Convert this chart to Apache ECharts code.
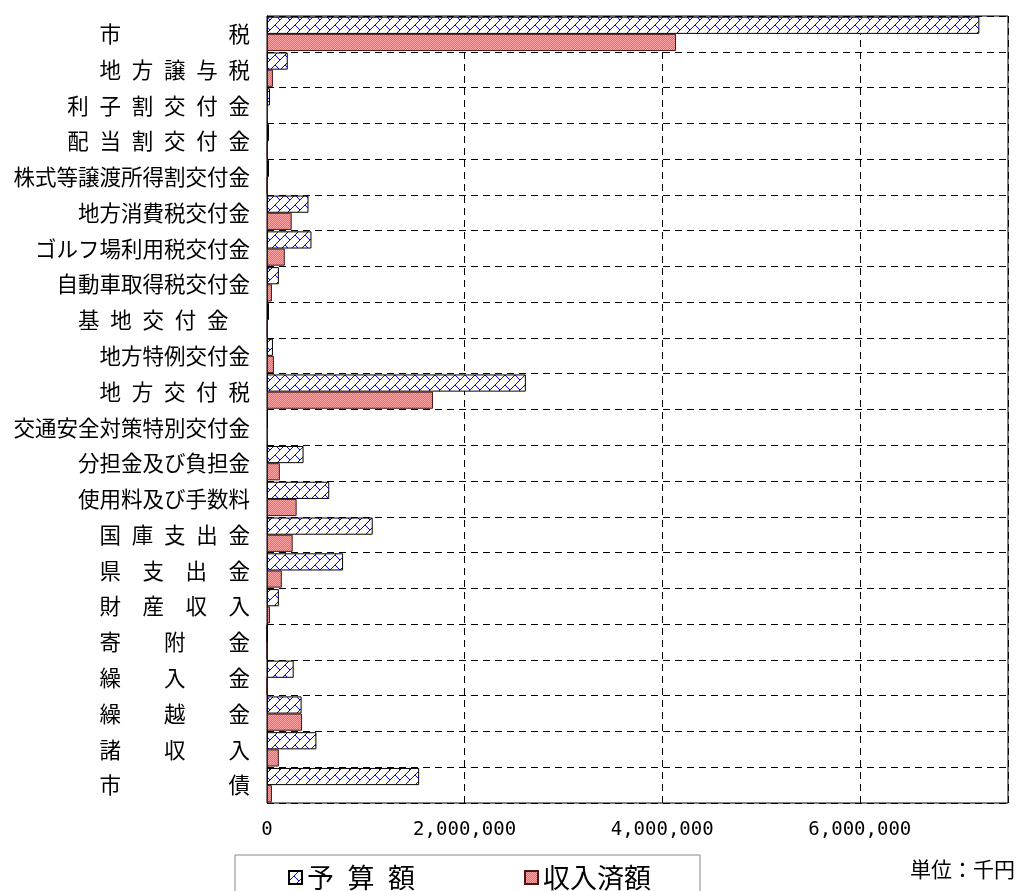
<!DOCTYPE html>
<html>
<head>
<meta charset="utf-8">
<title>歳入</title>
<script src="https://cdn.jsdelivr.net/npm/echarts@6/dist/echarts.min.js"></script>
<style>
    html, body { margin: 0; padding: 0; background: #fff; }
    .chart { width: 1019px; height: 891px; }
</style>
</head>
<body>
<div class="chart"></div>
<script>
// 科目（上から順）  \u2002 = 半角幅の空白
var categories = [
    "市　　　　　税",
    "地\u2002方\u2002譲\u2002与\u2002税",
    "利\u2002子\u2002割\u2002交\u2002付\u2002金",
    "配\u2002当\u2002割\u2002交\u2002付\u2002金",
    "株式等譲渡所得割交付金",
    "地方消費税交付金",
    "ゴルフ場利用税交付金",
    "自動車取得税交付金",
    "基\u2002地\u2002交\u2002付\u2002金　",
    "地方特例交付金",
    "地\u2002方\u2002交\u2002付\u2002税",
    "交通安全対策特別交付金",
    "分担金及び負担金",
    "使用料及び手数料",
    "国\u2002庫\u2002支\u2002出\u2002金",
    "県　支　出　金",
    "財　産　収　入",
    "寄　　附　　金",
    "繰　　入　　金",
    "繰　　越　　金",
    "諸　　収　　入",
    "市　　　　　債"
];
// 予算額（千円）
var budget = [7210000, 210000, 30000, 20000, 20000, 420000, 450000, 120000, 20000, 60000, 2620000,
    10000, 370000, 630000, 1070000, 770000, 120000, 0, 270000, 350000, 500000, 1540000];
// 収入済額（千円）
var received = [4140000, 60000, 10000, 5000, 3000, 250000, 180000, 50000, 5000, 70000, 1680000,
    10000, 130000, 300000, 260000, 150000, 30000, 0, 0, 355000, 120000, 50000];
var seriesNames = ["予\u2002算\u2002額", "収入済額"];

// 斜めレンガ模様（予算額）
function brickPattern() {
    var s = 10;
    var c = document.createElement("canvas");
    c.width = s; c.height = s;
    var ctx = c.getContext("2d");
    ctx.fillStyle = "#fff";
    ctx.fillRect(0, 0, s, s);
    ctx.fillStyle = "#0000ff";
    for (var y = 0; y < s; y++) {
        // 右上がりの線
        ctx.fillRect(s - 1 - y, y, 1, 1);
        // 下半分の右下がりの線
        if (y >= s / 2) ctx.fillRect(y, y, 1, 1);
    }
    return c;
}
// 細かい点模様（収入済額）
function dotPattern() {
    var c = document.createElement("canvas");
    c.width = 2; c.height = 2;
    var ctx = c.getContext("2d");
    ctx.fillStyle = "#ff6262";
    ctx.fillRect(0, 0, 2, 2);
    ctx.fillStyle = "#ffa4a4";
    ctx.fillRect(0, 0, 1, 1);
    ctx.fillRect(1, 1, 1, 1);
    return c;
}

var myChart = echarts.init(document.querySelector(".chart"));
var labelFont = "'Noto Sans CJK JP', sans-serif";
var option = {
    animation: false,
    backgroundColor: "#fff",
    textStyle: { fontFamily: labelFont },
    grid: {
        left: 267, top: 16, right: 11, bottom: 88,
        show: true,
        borderColor: "#000",
        borderWidth: 1
    },
    legend: {
        left: 235,
        top: 855,
        padding: [9, 49, 30, 53],
        itemGap: 109,
        itemWidth: 13,
        itemHeight: 13,
        icon: "rect",
        borderColor: "#888",
        borderWidth: 1,
        textStyle: { fontSize: 27, color: "#000", fontFamily: labelFont },
        data: seriesNames
    },
    xAxis: {
        type: "value",
        min: 0,
        max: 7500000,
        interval: 2000000,
        axisLine: { show: false },
        axisTick: { show: false },
        axisLabel: {
            fontSize: 19,
            color: "#000",
            margin: 18,
            showMaxLabel: false,
            fontFamily: "'DejaVu Sans Mono', monospace",
            formatter: function (v) { return v.toLocaleString("en-US"); }
        },
        splitLine: {
            lineStyle: { color: "#000", type: [7, 5], width: 1 }
        }
    },
    yAxis: {
        type: "category",
        inverse: true,
        data: categories,
        axisLine: { show: true, lineStyle: { color: "#000" } },
        axisTick: { show: false },
        axisLabel: {
            fontSize: 21.5,
            color: "#000",
            margin: 17,
            fontFamily: labelFont
        },
        splitLine: {
            show: true,
            lineStyle: { color: "#000", type: [7, 5], width: 1 }
        }
    },
    series: [
        {
            name: seriesNames[0],
            type: "bar",
            data: budget,
            barGap: "0%",
            barCategoryGap: "4%",
            itemStyle: {
                color: { image: brickPattern(), repeat: "repeat" },
                borderColor: "#000",
                borderWidth: 1
            }
        },
        {
            name: seriesNames[1],
            type: "bar",
            data: received,
            itemStyle: {
                color: { image: dotPattern(), repeat: "repeat" },
                borderColor: "#4a1515",
                borderWidth: 1
            }
        }
    ],
    graphic: [
        {
            type: "text",
            right: 4,
            top: 859,
            style: { text: "単位：千円", fontSize: 21, fill: "#000", fontFamily: labelFont }
        }
    ]
};
myChart.setOption(option);
</script>
</body>
</html>
